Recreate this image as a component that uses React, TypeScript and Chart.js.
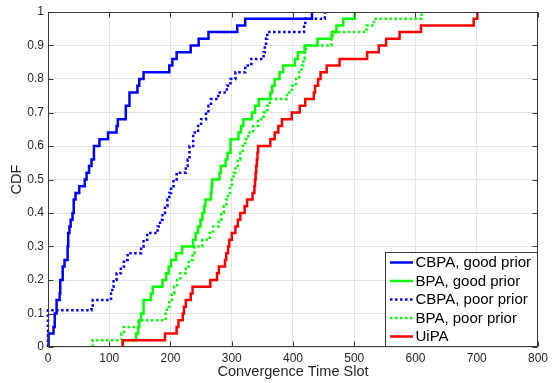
import React, { useEffect, useRef } from 'react';
import { Chart, registerables } from 'chart.js';

Chart.register(...registerables);

const xTicks = [0, 100, 200, 300, 400, 500, 600, 700, 800];
const yTicks = [0, 0.1, 0.2, 0.3, 0.4, 0.5, 0.6, 0.7, 0.8, 0.9, 1];
const yTickLabels = ['0', '0.1', '0.2', '0.3', '0.4', '0.5', '0.6', '0.7', '0.8', '0.9', '1'];
const xTitle = 'Convergence Time Slot';
const yTitle = 'CDF';

const seriesNames = ['CBPA, good prior', 'BPA, good prior', 'CBPA, poor prior', 'BPA, poor prior', 'UiPA'];

const cbpaGoodX = [1, 1, 9, 11, 14, 19, 20, 24, 27, 32, 33, 35, 37, 40, 42, 45, 51, 60, 63, 67, 71, 75, 84, 98, 112, 114, 127, 133, 146, 149, 156, 198, 203, 210, 233, 246, 262, 309, 322, 431];
const cbpaGoodY = [0, 0.04, 0.06, 0.10, 0.14, 0.16, 0.20, 0.24, 0.26, 0.30, 0.34, 0.36, 0.38, 0.40, 0.44, 0.46, 0.48, 0.50, 0.52, 0.54, 0.56, 0.60, 0.62, 0.64, 0.66, 0.68, 0.72, 0.76, 0.78, 0.80, 0.82, 0.84, 0.86, 0.88, 0.90, 0.92, 0.94, 0.96, 0.98, 1.0];

const bpaGoodX = [122, 122, 144, 147, 149, 152, 156, 168, 171, 187, 193, 197, 201, 209, 219, 237, 241, 245, 249, 252, 255, 257, 266, 267, 268, 280, 282, 290, 293, 298, 311, 315, 319, 333, 338, 344, 363, 366, 370, 378, 384, 403, 408, 419, 440, 463, 471, 482, 501];
const bpaGoodY = [0, 0.02, 0.04, 0.06, 0.08, 0.10, 0.14, 0.16, 0.18, 0.20, 0.22, 0.24, 0.26, 0.28, 0.30, 0.32, 0.34, 0.36, 0.38, 0.40, 0.42, 0.44, 0.46, 0.48, 0.50, 0.52, 0.54, 0.56, 0.58, 0.62, 0.64, 0.66, 0.68, 0.70, 0.72, 0.74, 0.76, 0.78, 0.80, 0.82, 0.84, 0.86, 0.88, 0.90, 0.92, 0.94, 0.96, 0.98, 1.0];

const cbpaPoorX = [0, 0, 71, 73, 103, 105, 107, 112, 119, 124, 130, 152, 156, 162, 179, 183, 187, 191, 195, 198, 201, 205, 210, 225, 228, 231, 237, 245, 250, 258, 262, 266, 278, 292, 298, 306, 322, 332, 352, 354, 356, 358, 418, 420, 452];
const cbpaPoorY = [0, 0.11, 0.12, 0.14, 0.16, 0.18, 0.20, 0.22, 0.24, 0.26, 0.28, 0.30, 0.32, 0.34, 0.36, 0.38, 0.40, 0.42, 0.44, 0.46, 0.48, 0.50, 0.52, 0.54, 0.56, 0.60, 0.64, 0.66, 0.68, 0.70, 0.72, 0.74, 0.76, 0.78, 0.80, 0.82, 0.84, 0.86, 0.88, 0.90, 0.92, 0.94, 0.96, 0.98, 1.0];

const bpaPoorX = [73, 73, 120, 124, 148, 192, 194, 198, 202, 206, 211, 216, 225, 230, 236, 239, 252, 264, 270, 279, 283, 287, 291, 294, 297, 300, 303, 306, 310, 314, 318, 322, 327, 335, 343, 352, 358, 362, 390, 398, 405, 410, 414, 417, 419, 421, 463, 465, 520, 532, 610];
const bpaPoorY = [0, 0.02, 0.04, 0.06, 0.08, 0.10, 0.12, 0.14, 0.16, 0.18, 0.20, 0.22, 0.24, 0.26, 0.28, 0.30, 0.32, 0.34, 0.36, 0.38, 0.40, 0.42, 0.44, 0.46, 0.48, 0.50, 0.52, 0.54, 0.56, 0.58, 0.60, 0.62, 0.64, 0.66, 0.68, 0.70, 0.72, 0.74, 0.76, 0.78, 0.80, 0.82, 0.84, 0.86, 0.88, 0.90, 0.92, 0.94, 0.96, 0.98, 1.0];

const uipaX = [122, 122, 191, 210, 213, 220, 222, 225, 233, 236, 265, 276, 279, 289, 291, 294, 296, 300, 306, 310, 314, 321, 325, 334, 337, 338, 339, 340, 341, 342, 343, 363, 370, 376, 382, 398, 411, 420, 434, 436, 441, 445, 455, 476, 521, 540, 552, 574, 609, 695, 701];
const uipaY = [0, 0.02, 0.04, 0.06, 0.08, 0.10, 0.12, 0.14, 0.16, 0.18, 0.20, 0.22, 0.24, 0.26, 0.28, 0.30, 0.32, 0.34, 0.36, 0.38, 0.40, 0.42, 0.44, 0.46, 0.48, 0.50, 0.52, 0.54, 0.56, 0.58, 0.60, 0.62, 0.64, 0.66, 0.68, 0.70, 0.72, 0.74, 0.76, 0.78, 0.80, 0.82, 0.84, 0.86, 0.88, 0.90, 0.92, 0.94, 0.96, 0.98, 1.0];

const FONT = '"Liberation Sans", Arial, Helvetica, sans-serif';
const DOT = [2.5, 2.5];
const LW = 2.5;

export default function App() {
  const ref = useRef<HTMLCanvasElement>(null);

  useEffect(() => {
    if (!ref.current) return;
    const pts = (xs: number[], ys: number[]) => xs.map((x, i) => ({ x, y: ys[i] }));
    const series = [
      { label: seriesNames[0], data: pts(cbpaGoodX, cbpaGoodY), color: '#0000ff', dash: [] as number[] },
      { label: seriesNames[1], data: pts(bpaGoodX, bpaGoodY), color: '#00ff00', dash: [] as number[] },
      { label: seriesNames[2], data: pts(cbpaPoorX, cbpaPoorY), color: '#0000ff', dash: DOT },
      { label: seriesNames[3], data: pts(bpaPoorX, bpaPoorY), color: '#00ff00', dash: DOT },
      { label: seriesNames[4], data: pts(uipaX, uipaY), color: '#ff0000', dash: [] as number[] },
    ];

    const overlay = {
      id: 'overlay',
      afterDraw(chart: any) {
        const { ctx, chartArea: a, scales } = chart;
        const xs = scales.x;
        const ys = scales.y;
        ctx.save();
        // box
        ctx.strokeStyle = '#3a3a3a';
        ctx.lineWidth = 1;
        ctx.setLineDash([]);
        const L = Math.round(a.left) + 0.5;
        const R = Math.round(a.right) - 0.5;
        const T = Math.round(a.top) + 0.5;
        const B = Math.round(a.bottom) - 0.5;
        ctx.strokeRect(L, T, R - L, B - T);
        // inward ticks
        const tl = 5;
        ctx.beginPath();
        xTicks.forEach((v) => {
          const px = Math.round(xs.getPixelForValue(v)) + 0.5;
          ctx.moveTo(px, B); ctx.lineTo(px, B - tl);
          ctx.moveTo(px, T); ctx.lineTo(px, T + tl);
        });
        yTicks.forEach((v) => {
          const py = Math.round(ys.getPixelForValue(v)) + 0.5;
          ctx.moveTo(L, py); ctx.lineTo(L + tl, py);
          ctx.moveTo(R, py); ctx.lineTo(R - tl, py);
        });
        ctx.stroke();

        // axis titles
        ctx.fillStyle = '#262626';
        ctx.font = `14.5px ${FONT}`;
        ctx.textAlign = 'center';
        ctx.textBaseline = 'middle';
        ctx.fillText(xTitle, (a.left + a.right) / 2, 372);
        ctx.save();
        ctx.translate(17, (a.top + a.bottom) / 2);
        ctx.rotate(-Math.PI / 2);
        ctx.fillText(yTitle, 0, 0);
        ctx.restore();

        // legend
        const lx0 = 385.5, lx1 = R, ly0 = 252.5, ly1 = B;
        ctx.fillStyle = '#ffffff';
        ctx.fillRect(lx0, ly0, lx1 - lx0, ly1 - ly0);
        ctx.strokeStyle = '#3a3a3a';
        ctx.lineWidth = 1;
        ctx.strokeRect(lx0, ly0, lx1 - lx0, ly1 - ly0);
        const rowY = [262.5, 281, 299.5, 318, 336.5];
        ctx.font = `15px ${FONT}`;
        ctx.textAlign = 'left';
        ctx.textBaseline = 'middle';
        series.forEach((s, i) => {
          const y = rowY[i];
          ctx.strokeStyle = s.color;
          ctx.lineWidth = LW;
          ctx.setLineDash(s.dash);
          ctx.beginPath();
          ctx.moveTo(390, y);
          ctx.lineTo(413, y);
          ctx.stroke();
          ctx.setLineDash([]);
          ctx.fillStyle = '#000000';
          ctx.fillText(s.label, 415.5, y + 0.5);
        });
        ctx.restore();
      },
    };

    const chart = new Chart(ref.current, {
      type: 'line',
      data: {
        datasets: series.map((s, i) => ({
          label: s.label,
          data: s.data,
          borderColor: s.color,
          backgroundColor: s.color,
          borderWidth: LW,
          borderDash: s.dash,
          borderJoinStyle: 'miter',
          borderCapStyle: 'butt',
          stepped: 'before',
          pointRadius: 0,
          fill: false,
          order: 4 - i,
          clip: 4,
        })),
      },
      options: {
        responsive: false,
        animation: false,
        devicePixelRatio: 1,
        layout: { padding: { left: 0, top: 12, right: 11, bottom: 0 } },
        plugins: { legend: { display: false }, tooltip: { enabled: false }, title: { display: false } },
        scales: {
          x: {
            type: 'linear',
            min: 0,
            max: 800,
            afterBuildTicks: (s: any) => { s.ticks = xTicks.map((v) => ({ value: v })); },
            afterFit: (s: any) => { s.height = 36; },
            ticks: {
              font: { family: FONT, size: 12 },
              color: '#262626',
              padding: 4,
              maxRotation: 0,
              autoSkip: false,
              callback: (v: any) => String(v),
            },
            grid: { color: '#e4e4e4', lineWidth: 1, drawTicks: false },
            border: { display: false },
          },
          y: {
            type: 'linear',
            min: 0,
            max: 1,
            afterBuildTicks: (s: any) => { s.ticks = yTicks.map((v) => ({ value: v })); },
            afterFit: (s: any) => { s.width = 48; },
            ticks: {
              font: { family: FONT, size: 12 },
              color: '#262626',
              padding: 4,
              autoSkip: false,
              callback: (v: any) => {
                const idx = yTicks.findIndex((t) => Math.abs(t - v) < 1e-9);
                return idx >= 0 ? yTickLabels[idx] : '';
              },
            },
            grid: { color: '#e4e4e4', lineWidth: 1, drawTicks: false },
            border: { display: false },
          },
        },
      },
      plugins: [overlay],
    } as any);

    return () => chart.destroy();
  }, []);

  return (
    <div style={{ position: 'fixed', left: 0, top: 0, width: 552, height: 383, background: '#ffffff' }}>
      <canvas ref={ref} width={552} height={383} style={{ width: 552, height: 383, display: 'block' }} />
    </div>
  );
}
